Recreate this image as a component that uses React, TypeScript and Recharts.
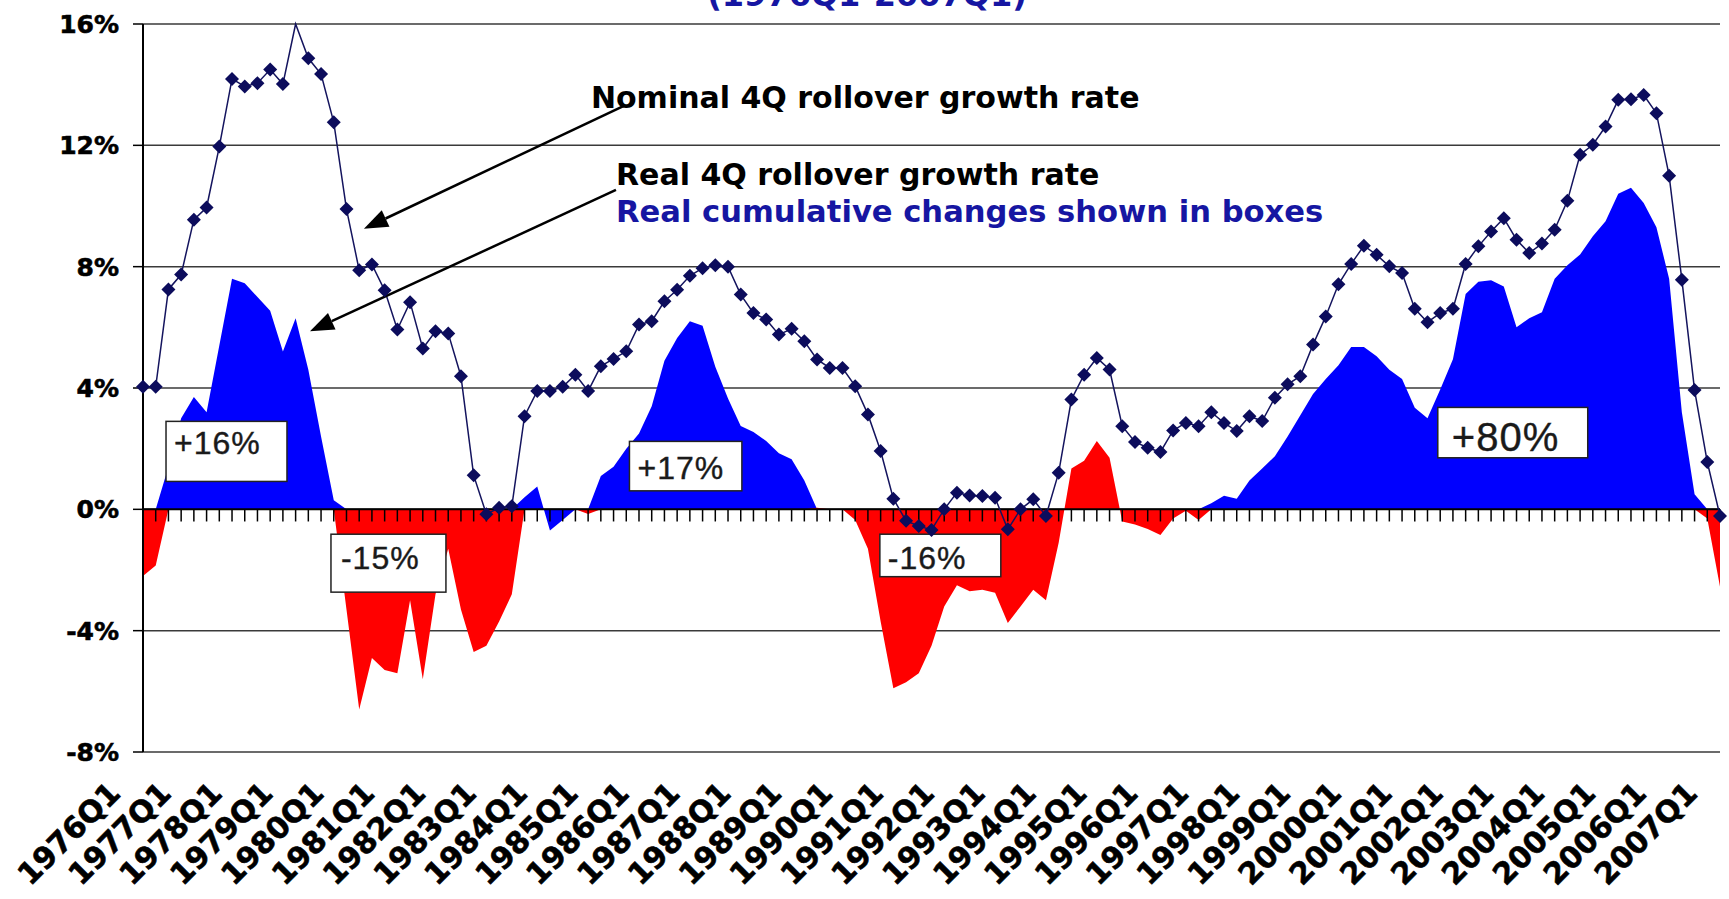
import React from "react";
import {
  ComposedChart,
  Area,
  Line,
  XAxis,
  YAxis,
  CartesianGrid,
  ReferenceLine,
  ReferenceArea,
  ReferenceDot,
} from "recharts";

// ---------- DATA ----------
// Year tick labels (one label per year, at each Q1)
const yearLabels = [
  "1976Q1", "1977Q1", "1978Q1", "1979Q1", "1980Q1", "1981Q1", "1982Q1", "1983Q1",
  "1984Q1", "1985Q1", "1986Q1", "1987Q1", "1988Q1", "1989Q1", "1990Q1", "1991Q1",
  "1992Q1", "1993Q1", "1994Q1", "1995Q1", "1996Q1", "1997Q1", "1998Q1", "1999Q1",
  "2000Q1", "2001Q1", "2002Q1", "2003Q1", "2004Q1", "2005Q1", "2006Q1", "2007Q1",
];
const quarterSuffixes = ["Q1", "Q2", "Q3", "Q4"];

// Categories: quarters 1976Q1 .. 2007Q1
const quarters: string[] = [];
yearLabels.forEach((yl, k) => {
  const year = yl.slice(0, 4);
  quarterSuffixes.forEach((q) => {
    if (k < yearLabels.length - 1 || q === "Q1") quarters.push(year + q);
  });
});

// Nominal 4Q rollover growth rate (%)
const nominalGrowth = [
  4.04, 4.04, 7.25, 7.74, 9.55, 9.95, 11.96, 14.19, 13.94, 14.05,
  14.5, 14.02, 16.0, 14.87, 14.35, 12.76, 9.9, 7.88, 8.07, 7.22,
  5.93, 6.83, 5.3, 5.87, 5.8, 4.39, 1.12, -0.16, 0.05, 0.1,
  3.07, 3.9, 3.9, 4.04, 4.44, 3.9, 4.72, 4.96, 5.21, 6.09,
  6.2, 6.86, 7.24, 7.7, 7.95, 8.05, 8.0, 7.08, 6.47, 6.26,
  5.76, 5.95, 5.54, 4.94, 4.66, 4.66, 4.06, 3.13, 1.92, 0.35,
  -0.38, -0.55, -0.68, 0.0, 0.55, 0.46, 0.44, 0.38, -0.66, 0.0,
  0.33, -0.22, 1.21, 3.62, 4.44, 4.99, 4.61, 2.74, 2.22, 2.03,
  1.89, 2.6, 2.85, 2.74, 3.2, 2.85, 2.58, 3.07, 2.91, 3.68,
  4.12, 4.39, 5.43, 6.36, 7.42, 8.09, 8.69, 8.39, 8.01, 7.79,
  6.61, 6.17, 6.47, 6.61, 8.09, 8.67, 9.16, 9.6, 8.89, 8.45,
  8.76, 9.22, 10.17, 11.69, 12.02, 12.62, 13.5, 13.52, 13.66, 13.06,
  11.0, 7.57, 3.93, 1.56, -0.22,
];

// Real 4Q rollover growth rate (%)
const realGrowth = [
  -2.2, -1.85, 1.4, 3.0, 3.7, 3.2, 5.4, 7.6, 7.45, 7.0,
  6.55, 5.2, 6.3, 4.6, 2.4, 0.3, -3.3, -6.6, -4.9, -5.3,
  -5.4, -3.0, -5.6, -2.8, -1.3, -3.3, -4.7, -4.5, -3.7, -2.8,
  0.4, 0.75, -0.7, -0.35, 0.0, -0.15, 1.1, 1.4, 2.0, 2.5,
  3.4, 4.9, 5.65, 6.2, 6.05, 4.7, 3.65, 2.75, 2.55, 2.25,
  1.85, 1.65, 0.95, 0.05, 0.0, 0.0, -0.35, -1.3, -3.7, -5.9,
  -5.7, -5.4, -4.5, -3.2, -2.5, -2.7, -2.65, -2.75, -3.75, -3.2,
  -2.65, -3.0, -1.1, 1.35, 1.6, 2.25, 1.7, -0.4, -0.5, -0.65,
  -0.85, -0.3, -0.05, -0.35, 0.2, 0.45, 0.35, 0.95, 1.35, 1.75,
  2.4, 3.1, 3.8, 4.3, 4.75, 5.35, 5.35, 5.05, 4.6, 4.3,
  3.35, 3.0, 3.95, 4.95, 7.1, 7.5, 7.55, 7.35, 6.0, 6.3,
  6.5, 7.6, 8.05, 8.4, 9.0, 9.5, 10.4, 10.6, 10.1, 9.3,
  7.6, 3.2, 0.5, -0.3, -2.55,
];

// Periods drawn in red (down-cycles); all other quarters drawn in blue
const downPeriods: [string, string][] = [
  ["1976Q1", "1976Q2"],
  ["1980Q1", "1983Q2"],
  ["1984Q4", "1984Q4"],
  ["1989Q2", "1996Q4"],
  ["2006Q4", "2007Q1"],
];

const yTickValues = [-8, -4, 0, 4, 8, 12, 16];

// ---------- ANNOTATIONS (in data coordinates) ----------
const textNotes = [
  { text: "Nominal 4Q rollover growth rate", x: 35.22, y: 13.23, color: "#000000", size: 30 },
  { text: "Real 4Q rollover growth rate", x: 37.19, y: 10.7, color: "#000000", size: 30 },
  { text: "Real cumulative changes shown in boxes", x: 37.19, y: 9.48, color: "#1616a2", size: 30.6 },
];
const arrowNotes = [
  { from: { x: 37.81, y: 13.3 }, to: { x: 17.37, y: 9.25 } },
  { from: { x: 37.19, y: 10.53 }, to: { x: 13.13, y: 5.87 } },
];
const boxNotes = [
  { label: "+16%", x1: 1.81, x2: 11.32, y1: 0.92, y2: 2.9, padX: 8, base: 33, size: 32 },
  { label: "-15%", x1: 14.78, x2: 23.82, y1: -2.73, y2: -0.82, padX: 10, base: 35, size: 32 },
  { label: "+17%", x1: 38.25, x2: 47.09, y1: 0.61, y2: 2.24, padX: 8, base: 38, size: 32 },
  { label: "-16%", x1: 57.94, x2: 67.45, y1: -2.22, y2: -0.82, padX: 8, base: 35, size: 32 },
  { label: "+80%", x1: 101.81, x2: 113.6, y1: 1.7, y2: 3.36, padX: 14, base: 44, size: 40 },
];

// ---------- BUILD TABLE ----------
const isDown = (i: number) =>
  downPeriods.some(([a, b]) => i >= quarters.indexOf(a) && i <= quarters.indexOf(b));

const data = quarters.map((q, i) => ({
  idx: i,
  quarter: q,
  nominal: nominalGrowth[i],
  realUp: isDown(i) ? 0 : realGrowth[i],
  realDown: isDown(i) ? realGrowth[i] : 0,
}));

const xTicks = yearLabels.map((yl) => quarters.indexOf(yl));

// ---------- SHAPES ----------
const BOLD = "'DejaVu Sans', sans-serif";

const XTick = (props: any) => {
  const { x, y, payload } = props;
  const ax = x - 21;
  const ay = y + 43;
  return (
    <text
      x={ax}
      y={ay}
      transform={`rotate(-45 ${ax} ${ay})`}
      textAnchor="end"
      fontFamily={BOLD}
      fontWeight={700}
      fontSize={30}
      fill="#000"
      stroke="#000"
      strokeWidth={0.6}
    >
      {quarters[payload.value]}
    </text>
  );
};

const Diamond = (props: any) => {
  const { cx, cy, payload, index } = props;
  if (cx == null || cy == null || payload.nominal >= 16) return <g key={`d${index}`} />;
  const s = 7;
  return (
    <polygon
      key={`d${index}`}
      points={`${cx},${cy - s} ${cx + s},${cy} ${cx},${cy + s} ${cx - s},${cy}`}
      fill="#0c0c5c"
    />
  );
};

const ArrowShape = (p: any) => {
  const { x1, y1, x2, y2 } = p;
  const dx = x2 - x1;
  const dy = y2 - y1;
  const len = Math.hypot(dx, dy) || 1;
  const ux = dx / len;
  const uy = dy / len;
  const headLen = 24;
  const headW = 9;
  const bx = x2 - ux * headLen;
  const by = y2 - uy * headLen;
  const px = -uy;
  const py = ux;
  return (
    <g>
      <line x1={x1} y1={y1} x2={bx} y2={by} stroke="#000" strokeWidth={2.5} />
      <polygon
        points={`${x2},${y2} ${bx + px * headW},${by + py * headW} ${bx - px * headW},${by - py * headW}`}
        fill="#000"
      />
    </g>
  );
};

const makeTextShape = (text: string, color: string, size: number) => (p: any) => (
  <text x={p.cx} y={p.cy} fontFamily={BOLD} fontWeight={700} fontSize={size} fill={color}>
    {text}
  </text>
);

const makeBoxShape = (b: any) => (p: any) => (
  <g>
    <rect x={p.x} y={p.y} width={p.width} height={p.height} fill="#fff" stroke="#222" strokeWidth={1.5} />
    <text
      x={p.x + b.padX}
      y={p.y + b.base}
      fontFamily="'Liberation Sans', Arial, sans-serif"
      fontSize={b.size}
      letterSpacing={1}
      fill="#1a1a1a"
      stroke="#1a1a1a"
      strokeWidth={0.4}
    >
      {b.label}
    </text>
  </g>
);

export default function App() {
  return (
    <div style={{ position: "absolute", left: 0, top: 0, width: 1729, height: 899, background: "#fff" }}>
      <svg
        style={{ position: "absolute", left: 0, top: 0, pointerEvents: "none", zIndex: 5 }}
        width={1729}
        height={30}
      >
        <text x={867} y={6} textAnchor="middle" fontFamily={BOLD} fontWeight={700} fontSize={32} fill="#1616a2">
          (1976Q1-2007Q1)
        </text>
      </svg>
      <ComposedChart
        width={1729}
        height={899}
        data={data}
        margin={{ top: 24, right: 9, bottom: 0, left: 0 }}
      >
        <CartesianGrid horizontal vertical={false} stroke="#3a3a3a" strokeWidth={1.5} />
        <XAxis
          type="number"
          dataKey="idx"
          domain={[0, quarters.length - 1]}
          ticks={xTicks}
          interval={0}
          tick={<XTick />}
          tickLine={false}
          axisLine={false}
          tickSize={0}
          tickMargin={0}
          height={147}
        />
        <YAxis
          type="number"
          domain={[-8, 16]}
          ticks={yTickValues}
          interval={0}
          tickFormatter={(v: number) => `${v}%`}
          width={143}
          axisLine={{ stroke: "#000", strokeWidth: 2 }}
          tickLine={{ stroke: "#000", strokeWidth: 1.5 }}
          tickSize={10}
          tickMargin={14}
          tick={{ fontFamily: BOLD, fontWeight: 700, fontSize: 25, fill: "#000", stroke: "#000", strokeWidth: 0.6 }}
        />
        {quarters.map((q, i) => (
          <ReferenceLine
            key={`t${q}`}
            segment={[
              { x: i, y: 0 },
              { x: i, y: -0.4 },
            ]}
            stroke="#000"
            strokeWidth={1.5}
          />
        ))}
        <Area
          type="linear"
          dataKey="realUp"
          baseValue={0}
          fill="#0000ff"
          fillOpacity={1}
          stroke="none"
          dot={false}
          activeDot={false}
          isAnimationActive={false}
        />
        <Area
          type="linear"
          dataKey="realDown"
          baseValue={0}
          fill="#ff0000"
          fillOpacity={1}
          stroke="none"
          dot={false}
          activeDot={false}
          isAnimationActive={false}
        />
        <ReferenceLine y={0} stroke="#000" strokeWidth={2} />
        <Line
          type="linear"
          dataKey="nominal"
          stroke="#14145e"
          strokeWidth={1.5}
          dot={(p: any) => <Diamond {...p} key={`dd${p.index}`} />}
          activeDot={false}
          isAnimationActive={false}
        />
        {boxNotes.map((b) => (
          <ReferenceArea
            key={b.label}
            x1={b.x1}
            x2={b.x2}
            y1={b.y1}
            y2={b.y2}
            shape={makeBoxShape(b)}
          />
        ))}
        {arrowNotes.map((a, k) => (
          <ReferenceLine key={`a${k}`} segment={[a.from, a.to]} shape={ArrowShape} />
        ))}
        {textNotes.map((t) => (
          <ReferenceDot key={t.text} x={t.x} y={t.y} r={0} shape={makeTextShape(t.text, t.color, t.size)} />
        ))}
      </ComposedChart>
    </div>
  );
}
